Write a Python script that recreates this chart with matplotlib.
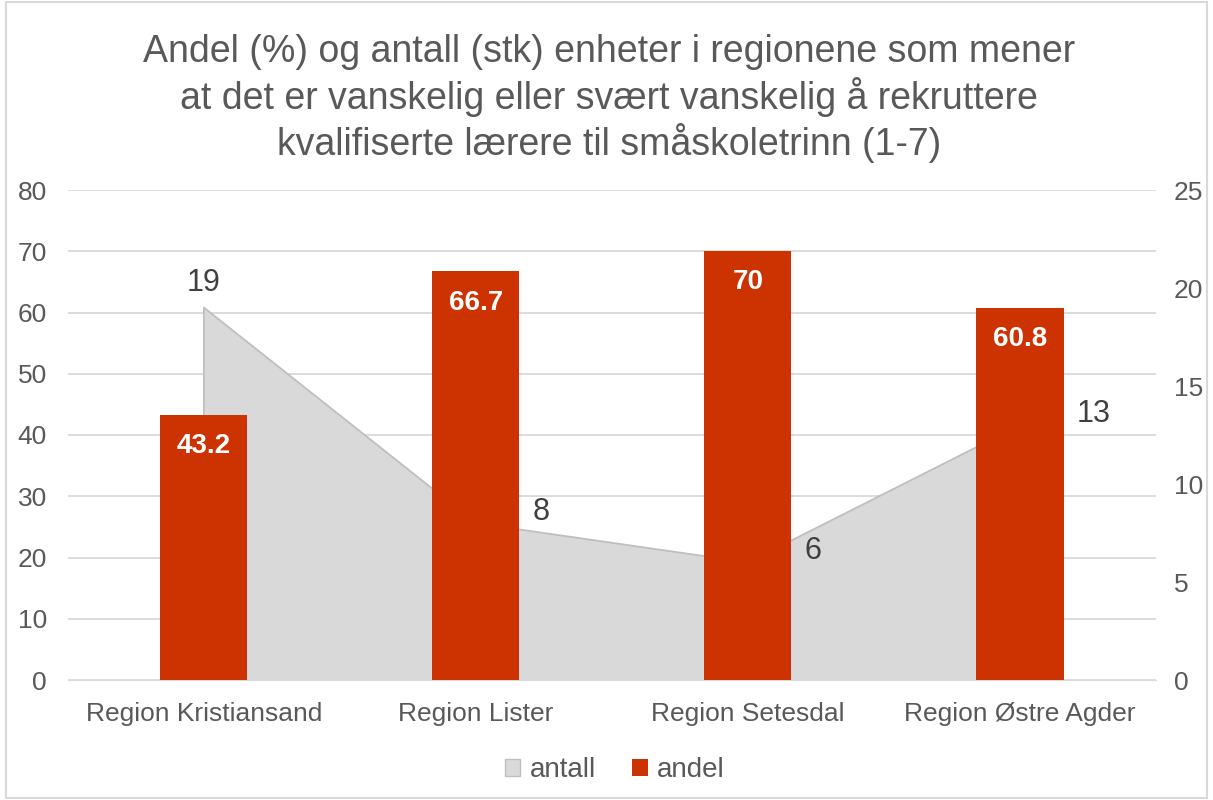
import matplotlib.pyplot as plt
from matplotlib.patches import Patch, Rectangle

plt.rcParams["font.family"] = ["Liberation Sans", "DejaVu Sans"]

# Data
regions = ["Region Kristiansand", "Region Lister", "Region Setesdal", "Region Østre Agder"]
andel = [43.2, 66.7, 70, 60.8]
antall = [19, 8, 6, 13]
andel_labels = ["43.2", "66.7", "70", "60.8"]
left_ticks = [0, 10, 20, 30, 40, 50, 60, 70, 80]
right_ticks = [0, 5, 10, 15, 20, 25]

TEXT = "#595959"
RED = "#CC3300"
GRAY_FILL = "#D9D9D9"
GRAY_EDGE = "#BFBFBF"

fig = plt.figure(figsize=(12.13, 8.0), dpi=100)
rect = [0.056, 0.15, 0.897, 0.6125]

# base axis: gridlines and left ticks
ax = fig.add_axes(rect)
ax.set_xlim(-0.5, len(regions) - 0.5)
ax.set_ylim(0, 80)
ax.set_yticks(left_ticks)
ax.yaxis.grid(True, color="#D9D9D9", linewidth=1.3)
ax.set_xticks(range(len(regions)))
ax.set_xticklabels(regions)
ax.tick_params(axis="both", length=0, labelsize=19, colors=TEXT)
ax.tick_params(axis="x", pad=16)
ax.tick_params(axis="y", pad=15)
for s in ax.spines.values():
    s.set_visible(False)
ax.spines["bottom"].set_visible(True)
ax.spines["bottom"].set_color("#D9D9D9")
ax.set_zorder(0)

# area on the secondary axis
ax2 = ax.twinx()
ax2.set_ylim(0, 25)
ax2.set_yticks(right_ticks)
ax2.tick_params(axis="y", length=0, labelsize=19, colors=TEXT, pad=13)
for s in ax2.spines.values():
    s.set_visible(False)
x = list(range(len(regions)))
ax2.fill_between(x, antall, 0, facecolor=GRAY_FILL, edgecolor="none")
ax2.plot([x[0]] + x + [x[-1]], [0] + antall + [0], color=GRAY_EDGE, linewidth=1.3)
for i, v in enumerate(antall):
    if i == 0:
        ax2.annotate(str(v), (i, v), xytext=(0, 7), textcoords="offset points",
                     ha="center", va="bottom", fontsize=22, color="#404040")
    else:
        ax2.annotate(str(v), (i, v), xytext=(41, 8), textcoords="offset points",
                     ha="left", va="center", fontsize=22, color="#404040")
ax2.set_zorder(1)
ax2.patch.set_visible(False)

# bars on top
ax3 = ax.twinx()
ax3.set_ylim(0, 80)
ax3.set_yticks([])
for s in ax3.spines.values():
    s.set_visible(False)
bars = ax3.bar(x, andel, width=0.32, color=RED)
for b, lab in zip(bars, andel_labels):
    ax3.annotate(lab, (b.get_x() + b.get_width() / 2, b.get_height()),
                 xytext=(0, -13), textcoords="offset points",
                 ha="center", va="top", fontsize=20, fontweight="bold", color="white")
ax3.set_zorder(2)
ax3.patch.set_visible(False)

fig.suptitle("Andel (%) og antall (stk) enheter i regionene som mener\n"
             "at det er vanskelig eller svært vanskelig å rekruttere\n"
             "kvalifiserte lærere til småskoletrinn (1-7)",
             x=0.502, y=0.957, fontsize=27, color=TEXT, linespacing=1.2)

handles = [Patch(facecolor=GRAY_FILL, edgecolor=GRAY_EDGE), Patch(facecolor=RED)]
fig.legend(handles, ["antall", "andel"], loc="center", bbox_to_anchor=(0.507, 0.037),
           ncol=2, frameon=False, fontsize=20, labelcolor=TEXT,
           handlelength=0.55, handleheight=0.55, handletextpad=0.35, columnspacing=1.3)

fig.patches.append(Rectangle((0.005, 0.003), 0.99, 0.994, transform=fig.transFigure,
                             fill=False, edgecolor="#D9D9D9", linewidth=1.5))

fig.savefig("out.png", dpi=100)
